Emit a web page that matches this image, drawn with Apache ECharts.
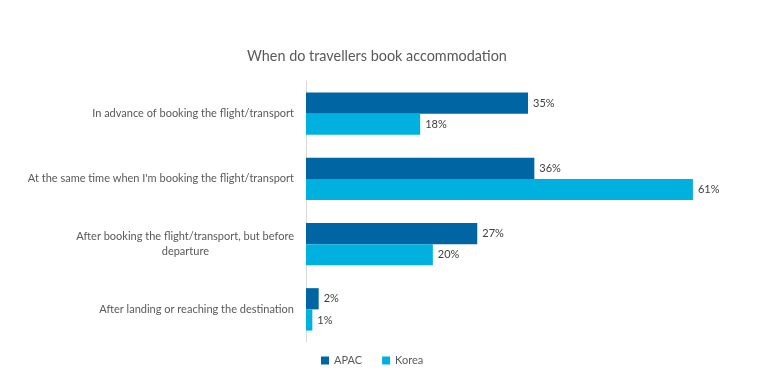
<!DOCTYPE html>
<html><head><meta charset="utf-8">
<script src="https://cdn.jsdelivr.net/npm/echarts@6/dist/echarts.min.js"></script>
<style>html,body{margin:0;padding:0;background:#fff}#c{width:765px;height:387px}</style>
</head><body><div id="c"></div>
<script>
const categories = [
  "In advance of booking the flight/transport",
  "At the same time when I'm booking the flight/transport",
  "After booking the flight/transport, but before\ndeparture",
  "After landing or reaching the destination"
];
const apac = [35, 36, 27, 2];
const korea = [18, 61, 20, 1];
const seriesNames = ["APAC", "Korea"];
const titleText = "When do travellers book accommodation";

const FONT = "Lato";
const chart = echarts.init(document.getElementById('c'), null, {renderer: 'canvas'});
chart.setOption({
  animation: false,
  textStyle: {fontFamily: FONT},
  title: {
    text: titleText, left: 242, top: 44,
    textStyle: {fontFamily: FONT, fontSize: 14.4, fontWeight: 'normal', color: '#595959'}
  },
  legend: {
    data: seriesNames, left: 316, top: 350, itemWidth: 8, itemHeight: 8, itemGap: 20,
    icon: 'rect', textStyle: {fontFamily: FONT, fontSize: 11, color: '#595959'}
  },
  grid: {left: 306, top: 81, height: 261, right: 15, containLabel: false},
  xAxis: {type: 'value', min: 0, max: 70, show: false},
  yAxis: {
    type: 'category', inverse: true, data: categories,
    axisLine: {show: true, lineStyle: {color: '#d9d9d9'}},
    axisTick: {show: false},
    axisLabel: {
      margin: 12, fontFamily: FONT, fontSize: 11, color: '#595959', lineHeight: 15,
      formatter: v => {
        const parts = v.split('\n');
        if (parts.length < 2) return v;
        return '{a|' + parts[0] + '}\n{d|' + parts[1] + '}';
      },
      rich: {
        a: {fontFamily: FONT, fontSize: 11, color: '#595959', lineHeight: 15},
        d: {fontFamily: FONT, fontSize: 11, color: '#595959', lineHeight: 15, padding: [0, 85, 0, 0]}
      }
    }
  },
  series: [
    {name: seriesNames[0], type: 'bar', data: apac, barGap: '0%', barCategoryGap: '35%',
     itemStyle: {color: '#0065a3'},
     label: {show: true, position: 'right', distance: 5, formatter: '{c}%', fontFamily: FONT, fontSize: 11, color: '#404040'}},
    {name: seriesNames[1], type: 'bar', data: korea, barGap: '0%', barCategoryGap: '35%',
     itemStyle: {color: '#00b0df'},
     label: {show: true, position: 'right', distance: 5, formatter: '{c}%', fontFamily: FONT, fontSize: 11, color: '#404040'}}
  ]
});
</script></body></html>
